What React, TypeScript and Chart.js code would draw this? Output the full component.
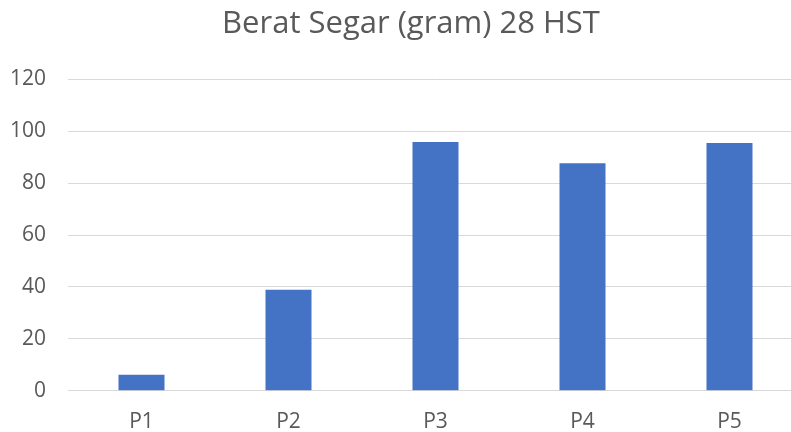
import React, { useEffect, useRef } from "react";
import { Chart, registerables } from "chart.js";

Chart.register(...registerables);

const categories = ["P1", "P2", "P3", "P4", "P5"];
const values = [6.2, 38.9, 95.8, 87.6, 95.4];
const yTicks = [0, 20, 40, 60, 80, 100, 120];
const titleText = "Berat Segar (gram) 28 HST";

const titleShift = {
  id: "titleShift",
  afterLayout(chart: any) {
    if (chart.titleBlock) {
      chart.titleBlock.left = 19;
    }
  },
};

export default function App() {
  const ref = useRef<HTMLCanvasElement | null>(null);
  useEffect(() => {
    if (!ref.current) return;
    const chart = new Chart(ref.current, {
      type: "bar",
      data: {
        labels: categories,
        datasets: [
          {
            data: values,
            backgroundColor: "#4472C4",
            borderWidth: 0,
            categoryPercentage: 1,
            barPercentage: 0.313,
          },
        ],
      },
      options: {
        animation: false,
        responsive: false,
        maintainAspectRatio: false,
        layout: { padding: { left: 0, right: 19, top: 0, bottom: -14 } },
        plugins: {
          legend: { display: false },
          tooltip: { enabled: false },
          title: {
            display: true,
            text: titleText,
            color: "#595959",
            font: { family: "'Open Sans'", size: 31, weight: "normal" },
            padding: { top: 6, bottom: 36 },
          },
        },
        scales: {
          x: {
            grid: { display: false },
            border: { display: true, color: "#d9d9d9", width: 1 },
            ticks: {
              color: "#595959",
              font: { family: "'Open Sans'", size: 21 },
              padding: 11,
            },
          },
          y: {
            min: 0,
            max: 120,
            afterBuildTicks: (axis: any) => {
              axis.ticks = yTicks.map((v) => ({ value: v }));
            },
            afterFit: (axis: any) => {
              axis.width = 68;
            },
            grid: { color: "#d9d9d9", lineWidth: 1, drawTicks: false },
            border: { display: false },
            ticks: {
              color: "#595959",
              font: { family: "'Open Sans'", size: 21 },
              padding: 22,
            },
          },
        },
      },
      plugins: [titleShift],
    });
    return () => chart.destroy();
  }, []);
  return (
    <div style={{ position: "fixed", left: 0, top: 0, width: 791, height: 432, overflow: "hidden", background: "#fff" }}>
      <canvas ref={ref} width={822} height={432} style={{ width: 822, height: 432, display: "block" }} />
    </div>
  );
}
